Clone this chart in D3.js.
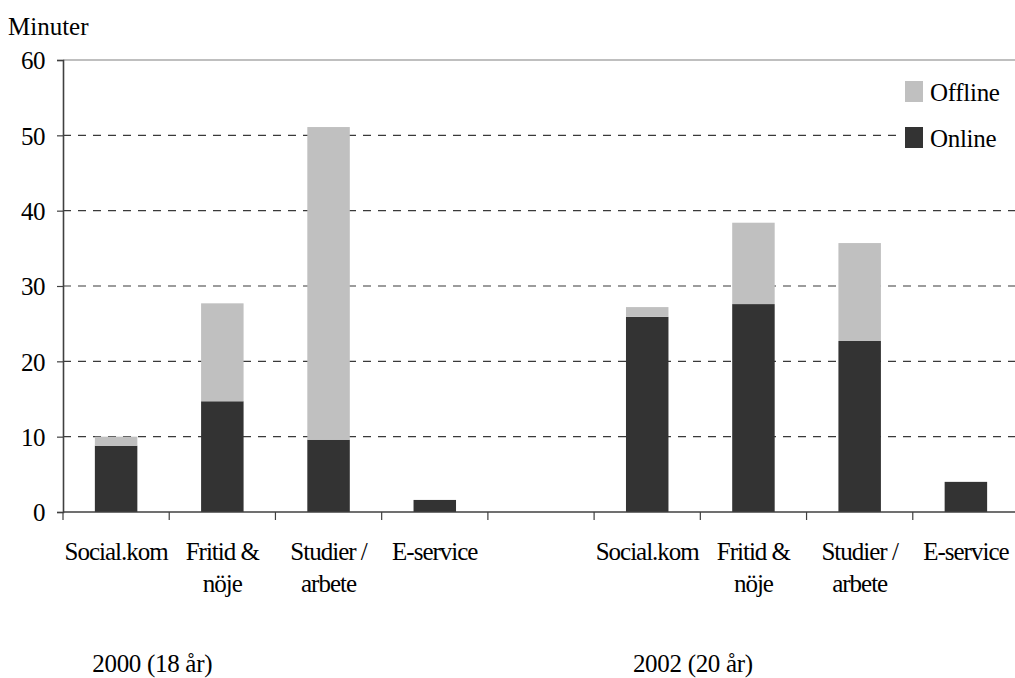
<!DOCTYPE html>
<html>
<head>
<meta charset="utf-8">
<script src="https://cdn.jsdelivr.net/npm/d3@7"></script>
<style>
  html, body { margin: 0; padding: 0; background: #fff; }
  svg text, svg .tick text { font-family: "Liberation Serif", Tinos, "DejaVu Serif", "Noto Serif", "Times New Roman", Times, serif !important; fill: #000; }
</style>
</head>
<body>
<svg id="chart" width="1015" height="678"></svg>
<script>
// Minutes per day spent on internet activities, split online / offline
const categories = [["Social.kom"], ["Fritid &", "nöje"], ["Studier /", "arbete"], ["E-service"]];
const years = ["2000 (18 år)", "2002 (20 år)"];
const online2000  = [8.8, 14.7, 9.6, 1.6];
const offline2000 = [1.2, 13.0, 41.5, 0];
const online2002  = [25.9, 27.6, 22.7, 4.0];
const offline2002 = [1.3, 10.8, 13.0, 0];
const yTicks = [0, 10, 20, 30, 40, 50, 60];
const seriesNames = ["Online", "Offline"];
const seriesColors = { Online: "#333333", Offline: "#c0c0c0" };

// Nine slots: four categories, an empty spacer, four categories
const rows = [];
categories.forEach((c, i) => rows.push({ slot: "a" + i, label: c, Online: online2000[i], Offline: offline2000[i] }));
rows.push({ slot: "gap", label: [], Online: 0, Offline: 0 });
categories.forEach((c, i) => rows.push({ slot: "b" + i, label: c, Online: online2002[i], Offline: offline2002[i] }));

const svg = d3.select("#chart");
const plotLeft = 63, plotRight = 1019, plotTop = 60, plotBottom = 512;
const serif = '"Liberation Serif", Tinos, "DejaVu Serif", serif';

const x = d3.scaleBand().domain(rows.map(d => d.slot)).range([plotLeft, plotRight]).padding(0);
const y = d3.scaleLinear().domain([0, 60]).range([plotBottom, plotTop]);

// Dashed gridlines
svg.append("g").selectAll("line")
  .data(yTicks.filter(t => t > 0 && t < 60))
  .join("line")
  .attr("x1", plotLeft).attr("x2", plotRight)
  .attr("y1", d => y(d)).attr("y2", d => y(d))
  .attr("stroke", "#3a3a3a").attr("stroke-width", 1.2)
  .attr("stroke-dasharray", "8,7");

// Top border of the plot area
svg.append("line")
  .attr("x1", plotLeft).attr("x2", plotRight).attr("y1", y(60)).attr("y2", y(60))
  .attr("stroke", "#808080").attr("stroke-width", 1.2);

// Stacked bars
const stack = d3.stack().keys(seriesNames);
const layers = stack(rows);
const barW = x.bandwidth() * 0.4;
svg.append("g").selectAll("g")
  .data(layers)
  .join("g")
  .attr("fill", d => seriesColors[d.key])
  .selectAll("rect")
  .data(d => d.filter(s => s[1] - s[0] > 0))
  .join("rect")
  .attr("x", d => x(d.data.slot) + (x.bandwidth() - barW) / 2)
  .attr("width", barW)
  .attr("y", d => y(d[1]))
  .attr("height", d => y(d[0]) - y(d[1]));

// Y axis
const yAxis = svg.append("g").attr("transform", `translate(${plotLeft},0)`)
  .call(d3.axisLeft(y).tickValues(yTicks).tickSize(6).tickPadding(12))
  .attr("font-family", serif);
yAxis.select(".domain").attr("stroke", "#404040").attr("stroke-width", 1.6);
yAxis.selectAll(".tick line").attr("stroke", "#404040").attr("stroke-width", 1.2);
yAxis.selectAll(".tick text")
  .attr("font-size", 25)
  .attr("letter-spacing", "-0.5px").attr("fill", "#000").attr("dy", "0.35em");

// X axis line and slot separators
svg.append("line")
  .attr("x1", plotLeft).attr("x2", plotRight).attr("y1", plotBottom).attr("y2", plotBottom)
  .attr("stroke", "#404040").attr("stroke-width", 1.6);
svg.append("g").selectAll("line")
  .data(rows.map(d => x(d.slot)).concat([plotRight]))
  .join("line")
  .attr("x1", d => d).attr("x2", d => d)
  .attr("y1", plotBottom).attr("y2", plotBottom + 8)
  .attr("stroke", "#404040").attr("stroke-width", 1.2);

// Category labels
const catLabels = svg.append("g").selectAll("text")
  .data(rows.filter(d => d.label.length))
  .join("text")
  .attr("text-anchor", "middle")
  .attr("font-size", 25)
  .attr("letter-spacing", "-1px")
  .attr("x", d => x(d.slot) + x.bandwidth() / 2)
  .attr("y", 560);
catLabels.selectAll("tspan")
  .data(d => d.label.map(l => ({ l, cx: x(d.slot) + x.bandwidth() / 2 })))
  .join("tspan")
  .attr("x", d => d.cx)
  .attr("dy", (d, i) => i === 0 ? 0 : 32)
  .text(d => d.l);

// Year group labels, placed under the first bars of each group
const yearOffsets = [0.84, 0.93];
svg.append("g").selectAll("text")
  .data(years)
  .join("text")
  .attr("text-anchor", "middle")
  .attr("font-size", 25)
  .attr("letter-spacing", "-0.3px")
  .attr("x", (d, i) => x(i === 0 ? "a0" : "b0") + x.bandwidth() * yearOffsets[i])
  .attr("y", 672)
  .text(d => d);

// Axis title
svg.append("text")
  .attr("x", 8).attr("y", 35)
  .attr("font-size", 25).attr("letter-spacing", "0px")
  .text("Minuter");

// Legend
const legend = svg.append("g").attr("transform", "translate(897,75)");
legend.append("rect").attr("x", 0).attr("y", 0).attr("width", 122).attr("height", 82).attr("fill", "#fff");
const legendItems = ["Offline", "Online"];
legendItems.forEach((name, i) => {
  const g = legend.append("g").attr("transform", `translate(8,${6 + i * 46})`);
  g.append("rect").attr("width", 18).attr("height", 21).attr("fill", seriesColors[name]);
  g.append("text").attr("x", 25).attr("y", 20)
    .attr("font-size", 25).attr("letter-spacing", "-0.3px").text(name);
});
</script>
</body>
</html>
